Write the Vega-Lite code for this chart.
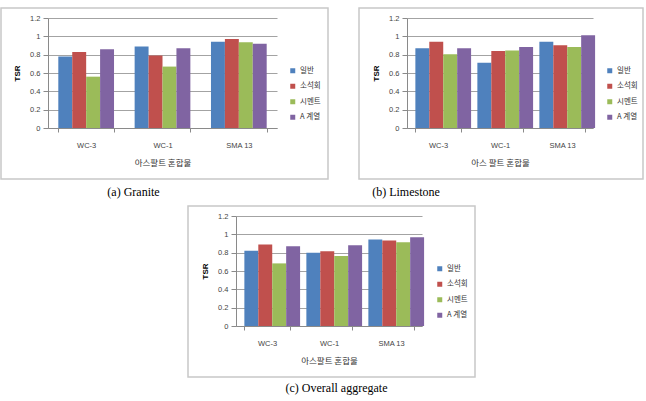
{
  "$schema": "https://vega.github.io/schema/vega-lite/v6.json",
  "padding": {"left": 0, "top": 7, "right": 0, "bottom": 0},
  "background": "white",
  "datasets": {
    "tsr": [
      {"panel": "granite", "mix": "WC-3", "additive": "일반", "tsr": 0.78},
      {"panel": "granite", "mix": "WC-3", "additive": "소석회", "tsr": 0.83},
      {"panel": "granite", "mix": "WC-3", "additive": "시멘트", "tsr": 0.56},
      {"panel": "granite", "mix": "WC-3", "additive": "A 계열", "tsr": 0.86},
      {"panel": "granite", "mix": "WC-1", "additive": "일반", "tsr": 0.89},
      {"panel": "granite", "mix": "WC-1", "additive": "소석회", "tsr": 0.79},
      {"panel": "granite", "mix": "WC-1", "additive": "시멘트", "tsr": 0.67},
      {"panel": "granite", "mix": "WC-1", "additive": "A 계열", "tsr": 0.87},
      {"panel": "granite", "mix": "SMA 13", "additive": "일반", "tsr": 0.94},
      {"panel": "granite", "mix": "SMA 13", "additive": "소석회", "tsr": 0.97},
      {"panel": "granite", "mix": "SMA 13", "additive": "시멘트", "tsr": 0.935},
      {"panel": "granite", "mix": "SMA 13", "additive": "A 계열", "tsr": 0.92},
      {"panel": "limestone", "mix": "WC-3", "additive": "일반", "tsr": 0.87},
      {"panel": "limestone", "mix": "WC-3", "additive": "소석회", "tsr": 0.94},
      {"panel": "limestone", "mix": "WC-3", "additive": "시멘트", "tsr": 0.805},
      {"panel": "limestone", "mix": "WC-3", "additive": "A 계열", "tsr": 0.87},
      {"panel": "limestone", "mix": "WC-1", "additive": "일반", "tsr": 0.713},
      {"panel": "limestone", "mix": "WC-1", "additive": "소석회", "tsr": 0.84},
      {"panel": "limestone", "mix": "WC-1", "additive": "시멘트", "tsr": 0.845},
      {"panel": "limestone", "mix": "WC-1", "additive": "A 계열", "tsr": 0.885},
      {"panel": "limestone", "mix": "SMA 13", "additive": "일반", "tsr": 0.94},
      {"panel": "limestone", "mix": "SMA 13", "additive": "소석회", "tsr": 0.904},
      {"panel": "limestone", "mix": "SMA 13", "additive": "시멘트", "tsr": 0.885},
      {"panel": "limestone", "mix": "SMA 13", "additive": "A 계열", "tsr": 1.013},
      {"panel": "overall", "mix": "WC-3", "additive": "일반", "tsr": 0.822},
      {"panel": "overall", "mix": "WC-3", "additive": "소석회", "tsr": 0.888},
      {"panel": "overall", "mix": "WC-3", "additive": "시멘트", "tsr": 0.683},
      {"panel": "overall", "mix": "WC-3", "additive": "A 계열", "tsr": 0.87},
      {"panel": "overall", "mix": "WC-1", "additive": "일반", "tsr": 0.80},
      {"panel": "overall", "mix": "WC-1", "additive": "소석회", "tsr": 0.815},
      {"panel": "overall", "mix": "WC-1", "additive": "시멘트", "tsr": 0.763},
      {"panel": "overall", "mix": "WC-1", "additive": "A 계열", "tsr": 0.88},
      {"panel": "overall", "mix": "SMA 13", "additive": "일반", "tsr": 0.943},
      {"panel": "overall", "mix": "SMA 13", "additive": "소석회", "tsr": 0.932},
      {"panel": "overall", "mix": "SMA 13", "additive": "시멘트", "tsr": 0.914},
      {"panel": "overall", "mix": "SMA 13", "additive": "A 계열", "tsr": 0.969}
    ]
  },
  "data": {"name": "tsr"},
  "spacing": 6,
  "vconcat": [
    {
      "spacing": 29,
      "hconcat": [
        {
          "width": 327,
          "height": 171,
          "transform": [{"filter": "datum.panel === 'granite'"}],
          "title": {"text": "(a) Granite", "orient": "bottom", "frame": "group", "dx": -31, "offset": 8},
          "mark": {"type": "bar"},
          "encoding": {
            "x": {
              "field": "mix", "type": "nominal", "sort": ["WC-3", "WC-1", "SMA 13"],
              "scale": {"range": [47, 276], "paddingInner": 0.27, "paddingOuter": 0.135},
              "axis": {"title": "아스팔트 혼합물", "offset": -51}
            },
            "xOffset": {"field": "additive", "type": "nominal", "sort": ["일반", "소석회", "시멘트", "A 계열"]},
            "y": {
              "field": "tsr", "type": "quantitative",
              "scale": {"domain": [0, 1.2], "range": [120, 10]},
              "axis": {"title": "TSR", "offset": -47}
            },
            "color": {
              "field": "additive", "type": "nominal", "sort": ["일반", "소석회", "시멘트", "A 계열"],
              "scale": {"domain": ["일반", "소석회", "시멘트", "A 계열"], "range": ["#4F81BD", "#C0504D", "#9BBB59", "#8064A2"]},
              "legend": {"orient": "none", "legendX": 288, "legendY": 59}
            }
          }
        },
        {
          "width": 284,
          "height": 171,
          "transform": [{"filter": "datum.panel === 'limestone'"}],
          "title": {"text": "(b) Limestone", "orient": "bottom", "frame": "group", "dx": -95, "offset": 8},
          "mark": {"type": "bar"},
          "encoding": {
            "x": {
              "field": "mix", "type": "nominal", "sort": ["WC-3", "WC-1", "SMA 13"],
              "scale": {"range": [48, 234], "paddingInner": 0.27, "paddingOuter": 0.135},
              "axis": {"title": "아스 팔트 혼합물", "offset": -51}
            },
            "xOffset": {"field": "additive", "type": "nominal", "sort": ["일반", "소석회", "시멘트", "A 계열"]},
            "y": {
              "field": "tsr", "type": "quantitative",
              "scale": {"domain": [0, 1.2], "range": [120, 10]},
              "axis": {"title": "TSR", "offset": -48}
            },
            "color": {
              "field": "additive", "type": "nominal", "sort": ["일반", "소석회", "시멘트", "A 계열"],
              "scale": {"domain": ["일반", "소석회", "시멘트", "A 계열"], "range": ["#4F81BD", "#C0504D", "#9BBB59", "#8064A2"]},
              "legend": {"orient": "none", "legendX": 247, "legendY": 59}
            }
          }
        }
      ],
      "resolve": {"scale": {"color": "independent"}, "legend": {"color": "independent"}}
    },
    {
      "spacing": 185,
      "hconcat": [
        {
          "width": 1,
          "height": 1,
          "data": {"values": []},
          "mark": {"type": "point"},
          "view": {"stroke": null}
        },
        {
          "width": 287,
          "height": 171,
          "transform": [{"filter": "datum.panel === 'overall'"}],
          "title": {"text": "(c) Overall aggregate", "orient": "bottom", "frame": "group", "dx": 5, "offset": 6},
          "mark": {"type": "bar"},
          "encoding": {
            "x": {
              "field": "mix", "type": "nominal", "sort": ["WC-3", "WC-1", "SMA 13"],
              "scale": {"range": [48, 234], "paddingInner": 0.27, "paddingOuter": 0.135},
              "axis": {"title": "아스팔트 혼합물", "offset": -51}
            },
            "xOffset": {"field": "additive", "type": "nominal", "sort": ["일반", "소석회", "시멘트", "A 계열"]},
            "y": {
              "field": "tsr", "type": "quantitative",
              "scale": {"domain": [0, 1.2], "range": [120, 10]},
              "axis": {"title": "TSR", "offset": -48}
            },
            "color": {
              "field": "additive", "type": "nominal", "sort": ["일반", "소석회", "시멘트", "A 계열"],
              "scale": {"domain": ["일반", "소석회", "시멘트", "A 계열"], "range": ["#4F81BD", "#C0504D", "#9BBB59", "#8064A2"]},
              "legend": {"orient": "none", "legendX": 248, "legendY": 59}
            }
          }
        }
      ],
      "resolve": {"scale": {"color": "independent"}, "legend": {"color": "independent"}}
    }
  ],
  "resolve": {"scale": {"color": "independent", "x": "independent", "y": "independent"}, "legend": {"color": "independent"}},
  "config": {
    "view": {"stroke": "#c8c8c8", "strokeWidth": 1.5},
    "title": {"font": "Liberation Serif", "fontSize": 12, "fontWeight": "normal", "color": "#000000"},
    "scale": {"offsetBandPaddingInner": 0, "offsetBandPaddingOuter": 0},
    "axisX": {
      "grid": false, "tickBand": "extent", "domainColor": "#8a8a8a", "tickColor": "#8a8a8a",
      "tickSize": 4, "labelAngle": 0, "labelPadding": 9, "labelFont": "Liberation Sans",
      "labelFontSize": 7.5, "labelColor": "#444444",
      "titleFont": "Noto Sans CJK KR", "titleFontSize": 8.5, "titleFontWeight": "normal",
      "titleColor": "#333333", "titlePadding": 10
    },
    "axisY": {
      "values": [0, 0.2, 0.4, 0.6, 0.8, 1, 1.2], "format": "~g",
      "gridColor": "#8c8c8c", "gridWidth": 0.8, "domainColor": "#8a8a8a", "tickColor": "#8a8a8a",
      "tickSize": 5, "labelPadding": 3, "labelFont": "Liberation Sans", "labelFontSize": 7.5,
      "labelColor": "#444444", "titleFont": "Liberation Sans", "titleFontSize": 8,
      "titleFontWeight": "bold", "titleColor": "#000000", "titlePadding": 8
    },
    "legend": {
      "title": null, "padding": 0, "symbolType": "square", "symbolSize": 25, "symbolStrokeWidth": 0,
      "labelFont": "Noto Sans CJK KR", "labelFontSize": 7.5, "labelColor": "#333333",
      "labelOffset": 3.5, "rowPadding": 6.5
    }
  }
}
